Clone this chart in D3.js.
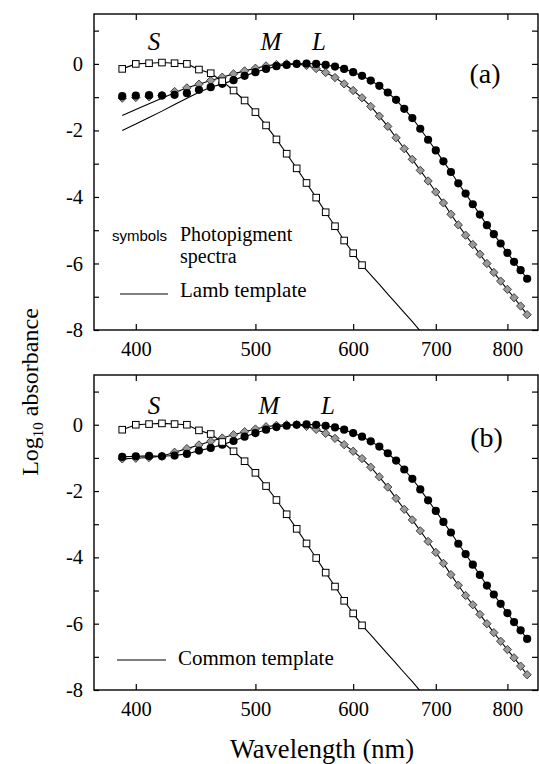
<!DOCTYPE html>
<html><head><meta charset="utf-8">
<script src="https://cdn.jsdelivr.net/npm/d3@7"></script>
<style>body{margin:0;background:#fff}svg{display:block}</style>
</head><body><svg id="c" width="539" height="764"></svg>
<script>
// ---------------- data ----------------
const wavelengths = [390,400,410,420,430,440,450,460,470,480,490,500,510,520,530,540,550,560,570,580,590,600,610,620,630,640,650,660,670,680,690,700,710,720,730,740,750,760,770,780,790,800,810,820,830];
const L_values = [-0.97,-0.95,-0.94,-0.95,-0.93,-0.88,-0.78,-0.70,-0.60,-0.49,-0.36,-0.25,-0.15,-0.07,-0.03,0.0,0.01,0.0,-0.03,-0.08,-0.15,-0.25,-0.36,-0.50,-0.66,-0.86,-1.08,-1.35,-1.63,-1.95,-2.28,-2.60,-2.93,-3.25,-3.59,-3.90,-4.22,-4.53,-4.85,-5.12,-5.40,-5.68,-5.95,-6.20,-6.46];
const M_values = [-1.03,-1.01,-0.99,-0.95,-0.83,-0.72,-0.61,-0.50,-0.40,-0.30,-0.21,-0.13,-0.06,-0.02,0.0,0.0,-0.05,-0.14,-0.26,-0.41,-0.60,-0.80,-1.02,-1.28,-1.57,-1.88,-2.22,-2.55,-2.87,-3.20,-3.52,-3.85,-4.18,-4.52,-4.84,-5.15,-5.43,-5.72,-6.00,-6.27,-6.53,-6.78,-7.03,-7.28,-7.54];
const S_wavelengths = [390,400,410,420,430,440,450,460,470,480,490,500,510,520,530,540,550,560,570,580,590,600,610];
const S_values = [-0.15,0.0,0.02,0.04,0.02,0.0,-0.17,-0.28,-0.52,-0.80,-1.10,-1.45,-1.85,-2.27,-2.70,-3.14,-3.58,-4.02,-4.46,-4.88,-5.31,-5.69,-6.05];

// template extension of the S curve beyond the last data point
const S_ext_wavelengths = [620,630,640,650,660,670,680];
const S_ext_values = [-6.34,-6.63,-6.92,-7.20,-7.48,-7.75,-8.03];

// Lamb template, short-wavelength part where it departs from the data (panel a)
const lambM_wavelengths = [390,400,410,420,430];
const lambM_values = [-1.55,-1.37,-1.20,-1.03,-0.87];
const lambL_wavelengths = [390,400,410,420,430,440,450];
const lambL_values = [-2.00,-1.81,-1.61,-1.42,-1.22,-1.03,-0.85];

const xTicks = [400,500,600,700,800];
const yTicks = [1,0,-1,-2,-3,-4,-5,-6,-7,-8];
const yLabelTicks = [0,-2,-4,-6,-8];

// ---------------- layout ----------------
const SERIF = '"Liberation Serif"';
const SANS = '"Liberation Sans"';
const svg = d3.select("#c");
const left = 94, right = 538;
const panels = [
  {id:"a", top:14, bottom:330, label:"(a)", labelX:485, labelY:83,
   cone:[{t:"S",x:154,y:50},{t:"M",x:271,y:50},{t:"L",x:319,y:50}], template:"lamb"},
  {id:"b", top:375, bottom:690, label:"(b)", labelX:486.5, labelY:447,
   cone:[{t:"S",x:154,y:414},{t:"M",x:269,y:414},{t:"L",x:328,y:414}], template:"common"}
];

const x = d3.scaleLog().domain([370, 847]).range([left, right]);

function txt(sel, fam, size) {
  return sel.style("font-family", fam).style("font-size", size + "px").attr("fill", "#000");
}

function buildTemplate(wl, vals, shortWl, shortVals) {
  const m = new Map();
  wl.forEach((w,i)=>m.set(w, vals[i]));
  if (shortWl) shortWl.forEach((w,i)=>m.set(w, shortVals[i]));
  return Array.from(m.entries()).sort((a,b)=>a[0]-b[0]).map(([w,v])=>({w,v}));
}

panels.forEach((p) => {
  const y = d3.scaleLinear().domain([-8, 1.5]).range([p.bottom, p.top]);
  const g = svg.append("g");
  const clipId = "clip" + p.id;
  svg.append("clipPath").attr("id", clipId).append("rect")
    .attr("x", left).attr("y", p.top).attr("width", right-left).attr("height", p.bottom-p.top);

  // axes
  const ax = g.append("g");
  const bottomAxis = d3.axisBottom(x).tickValues(xTicks).tickFormat(d=>String(d))
    .tickSizeInner(-6).tickSizeOuter(0).tickPadding(11);
  const topAxis = d3.axisTop(x).tickValues(xTicks).tickFormat("").tickSizeInner(-6).tickSizeOuter(0);
  const leftAxis = d3.axisLeft(y).tickValues(yTicks)
    .tickFormat(d => yLabelTicks.includes(d) ? String(d) : "")
    .tickSizeInner(-5).tickSizeOuter(0).tickPadding(11);
  const rightAxis = d3.axisRight(y).tickValues(yTicks).tickFormat("").tickSizeInner(-6).tickSizeOuter(0);

  [ [bottomAxis, `translate(0,${p.bottom})`], [topAxis, `translate(0,${p.top})`],
    [leftAxis, `translate(${left},0)`], [rightAxis, `translate(${right},0)`] ].forEach(([a,t])=>{
    const gg = ax.append("g").attr("transform", t).call(a);
    gg.selectAll(".domain").remove();
    gg.selectAll("line").attr("stroke","#000").attr("stroke-width",1.2);
    txt(gg.selectAll("text"), SERIF, 20.5);
  });
  g.append("rect").attr("x", left).attr("y", p.top).attr("width", right-left).attr("height", p.bottom-p.top)
    .attr("fill","none").attr("stroke","#000").attr("stroke-width",1.4);

  // template lines
  const line = d3.line().x(d=>x(d.w)).y(d=>y(d.v));
  const lines = g.append("g").attr("clip-path", `url(#${clipId})`);
  const sLine = buildTemplate(S_wavelengths.concat(S_ext_wavelengths), S_values.concat(S_ext_values));
  let mLine, lLine;
  if (p.template === "lamb") {
    mLine = buildTemplate(wavelengths, M_values, lambM_wavelengths, lambM_values);
    lLine = buildTemplate(wavelengths, L_values, lambL_wavelengths, lambL_values);
  } else {
    mLine = buildTemplate(wavelengths, M_values);
    lLine = buildTemplate(wavelengths, L_values);
  }
  [sLine, mLine, lLine].forEach(d=>{
    lines.append("path").datum(d).attr("d", line).attr("fill","none")
      .attr("stroke","#000").attr("stroke-width",1.1);
  });

  // symbols
  const pts = g.append("g");
  const mData = wavelengths.map((w,i)=>({w, v:M_values[i]}));
  const lData = wavelengths.map((w,i)=>({w, v:L_values[i]}));
  const sData = S_wavelengths.map((w,i)=>({w, v:S_values[i]}));
  pts.selectAll(".m").data(mData).enter().append("path")
    .attr("d", d3.symbol(d3.symbolDiamond2, 44)())
    .attr("transform", d=>`translate(${x(d.w)},${y(d.v)})`)
    .attr("fill","#9a9a9a").attr("stroke","#333").attr("stroke-width",0.9);
  pts.selectAll(".l").data(lData).enter().append("circle")
    .attr("cx", d=>x(d.w)).attr("cy", d=>y(d.v)).attr("r", 4.1)
    .attr("fill","#000");
  pts.selectAll(".s").data(sData).enter().append("rect")
    .attr("x", d=>x(d.w)-3.3).attr("y", d=>y(d.v)-3.3).attr("width",6.6).attr("height",6.6)
    .attr("fill","#fff").attr("stroke","#000").attr("stroke-width",1);

  // cone labels
  p.cone.forEach(c=>{
    txt(g.append("text"), SERIF, 25).attr("x", c.x).attr("y", c.y).attr("text-anchor","middle")
      .style("font-style","italic").text(c.t);
  });
  txt(g.append("text"), SERIF, 28).attr("x", p.labelX).attr("y", p.labelY).attr("text-anchor","middle").text(p.label);

  // legend
  if (p.template === "lamb") {
    txt(g.append("text"), SANS, 15).attr("x",112).attr("y",241).text("symbols");
    txt(g.append("text"), SERIF, 20).attr("x",180).attr("y",241).text("Photopigment");
    txt(g.append("text"), SERIF, 20).attr("x",180).attr("y",263).text("spectra");
    g.append("line").attr("x1",120).attr("x2",168).attr("y1",294).attr("y2",294).attr("stroke","#000").attr("stroke-width",1.2);
    txt(g.append("text"), SERIF, 21).attr("x",180).attr("y",297).text("Lamb template");
  } else {
    g.append("line").attr("x1",117).attr("x2",166).attr("y1",660).attr("y2",660).attr("stroke","#000").attr("stroke-width",1.2);
    txt(g.append("text"), SERIF, 21).attr("x",178).attr("y",665).text("Common template");
  }
});

// axis titles
txt(svg.append("text"), SERIF, 26.5).attr("x", 322).attr("y", 758).attr("text-anchor","middle").text("Wavelength (nm)");
const yt = txt(svg.append("text"), SERIF, 24).attr("transform","translate(38,392) rotate(-90)")
  .attr("text-anchor","middle");
yt.append("tspan").text("Log");
yt.append("tspan").style("font-size", "15px").attr("dy", 5).text("10");
yt.append("tspan").attr("dy", -5).text(" absorbance");
</script>
</body></html>
